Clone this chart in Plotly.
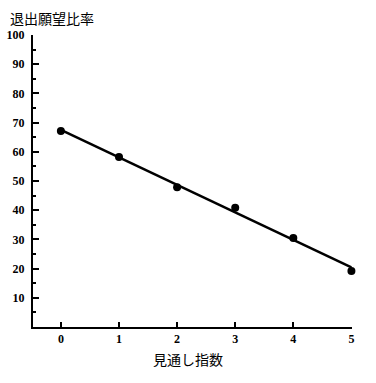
import numpy as np
import plotly.graph_objects as go

x_index = [0, 1, 2, 3, 4, 5]
ratio = [67.1, 58.2, 47.9, 40.8, 30.5, 19.2]
y_title = "退出願望比率"
x_title = "見通し指数"

slope, intercept = np.polyfit(x_index, ratio, 1)
fit_x = [x_index[0], x_index[-1]]
fit_y = [intercept + slope * v for v in fit_x]

fig = go.Figure()
fig.add_trace(go.Scatter(x=fit_x, y=fit_y, mode="lines", cliponaxis=False,
                         line=dict(color="black", width=2.5), hoverinfo="skip"))
fig.add_trace(go.Scatter(x=x_index, y=ratio, mode="markers", cliponaxis=False,
                         marker=dict(color="black", size=8)))

tick_font = dict(family="Liberation Serif", size=12, color="black", weight="bold")
fig.update_layout(
    width=376, height=383,
    margin=dict(l=33, r=24, t=35, b=56),
    paper_bgcolor="white", plot_bgcolor="white",
    showlegend=False,
    xaxis=dict(range=[-0.48, 5.01], tickvals=x_index, ticks="inside", ticklen=5,
               tickwidth=1.5, tickcolor="black", showline=True, linecolor="black",
               linewidth=2, showgrid=False, zeroline=False, tickfont=tick_font,
               automargin=False),
    yaxis=dict(range=[0, 100], tickvals=list(range(10, 101, 10)), ticks="inside",
               ticklen=6, tickwidth=1.5, tickcolor="black", showline=True,
               linecolor="black", linewidth=2, showgrid=False, zeroline=False,
               tickfont=tick_font, ticklabelstandoff=4, automargin=False,
               minor=dict(tickvals=list(range(5, 100, 10)), ticks="inside",
                          ticklen=3, tickwidth=1.5, tickcolor="black", showgrid=False)),
    annotations=[
        dict(text=y_title, xref="paper", yref="paper",
             x=-25/319, y=1 + 17/292, xanchor="left", yanchor="middle",
             showarrow=False, font=dict(family="Noto Sans CJK JP", size=14, color="black")),
        dict(text=x_title, xref="paper", yref="paper",
             x=(187.5-33)/319, y=-(359-327)/292, xanchor="center", yanchor="middle",
             showarrow=False, font=dict(family="Noto Sans CJK JP", size=14, color="black")),
    ],
)
fig.write_html("out.html")
